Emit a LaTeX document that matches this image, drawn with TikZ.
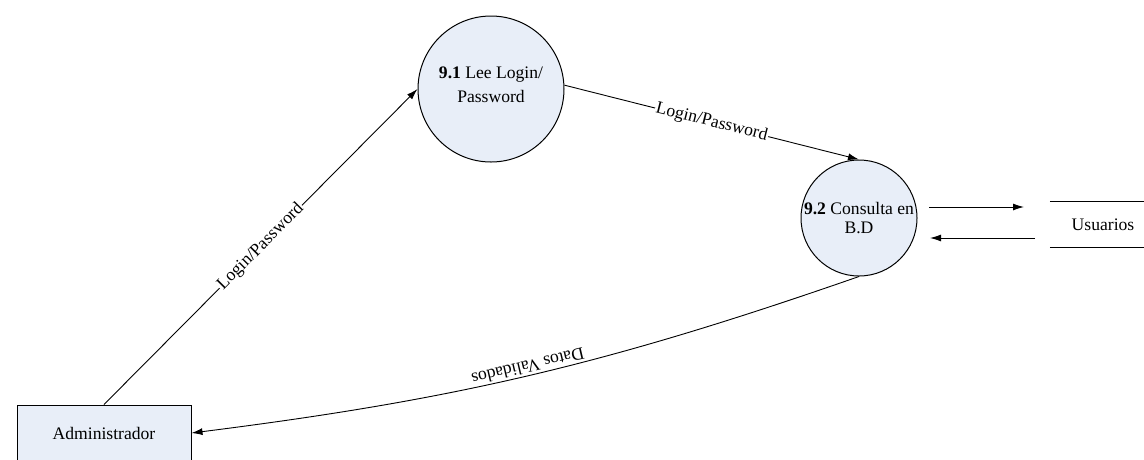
\documentclass[tikz,border=0pt]{standalone}
\usepackage{fontspec}
\setmainfont{Liberation Serif}
\usetikzlibrary{arrows.meta}
\definecolor{procfill}{RGB}{232,238,248}
\begin{document}
\begin{tikzpicture}[x=1pt,y=-1pt,
  every node/.style={font=\fontsize{17.6}{21}\selectfont},
  process/.style={circle, draw=black, line width=1pt, fill=procfill, inner sep=0pt, align=center},
  entity/.style={rectangle, draw=black, line width=1pt, fill=procfill,
                 minimum width=174pt, minimum height=56pt, inner sep=0pt},
  flow/.style={draw=black, line width=0.9pt, -{Latex[length=11pt,width=7pt]}},
  flowlabel/.style={sloped, fill=white, inner sep=1pt},
  storeline/.style={draw=black, line width=1pt},
]
\useasboundingbox (0,0) rectangle (1144,459);

% processes
\node[process, minimum size=146pt] (c1) at (491,89) {};
\node[align=center] (c1text) at ([yshift=4pt]c1.center) {\textbf{9.1} Lee Login/\\[3pt] Password};
\node[process, minimum size=116pt] (c2) at (859,218)
  {\textbf{9.2} Consulta en\\[-2pt] B.D};

% external entity
\node[entity] (admin) at (104,433) {Administrador};

% data store
\node[minimum width=106pt, minimum height=45pt, inner sep=0pt] (usuarios) at (1103,224.5) {Usuarios};
\draw[storeline] (usuarios.north west) -- (usuarios.north east);
\draw[storeline] (usuarios.south west) -- (usuarios.south east);

% flow ends near the store
\coordinate (qs) at (929,207);
\coordinate (qe) at (1024,207);
\coordinate (rs) at (1035,238);
\coordinate (re) at (930,238);

% data flows
\draw[flow] (admin.north) -- node[flowlabel] {Login/Password} (c1.west);
\draw[flow] (c1.3) -- node[flowlabel] {Login/Password} (c2.north);
\draw[flow] (c2.south) to[bend left=6]
  node[sloped, allow upside down, below, inner sep=2pt] {Datos Validados} (admin.east);
\draw[flow] (qs) -- (qe);
\draw[flow] (rs) -- (re);
\end{tikzpicture}
\end{document}
